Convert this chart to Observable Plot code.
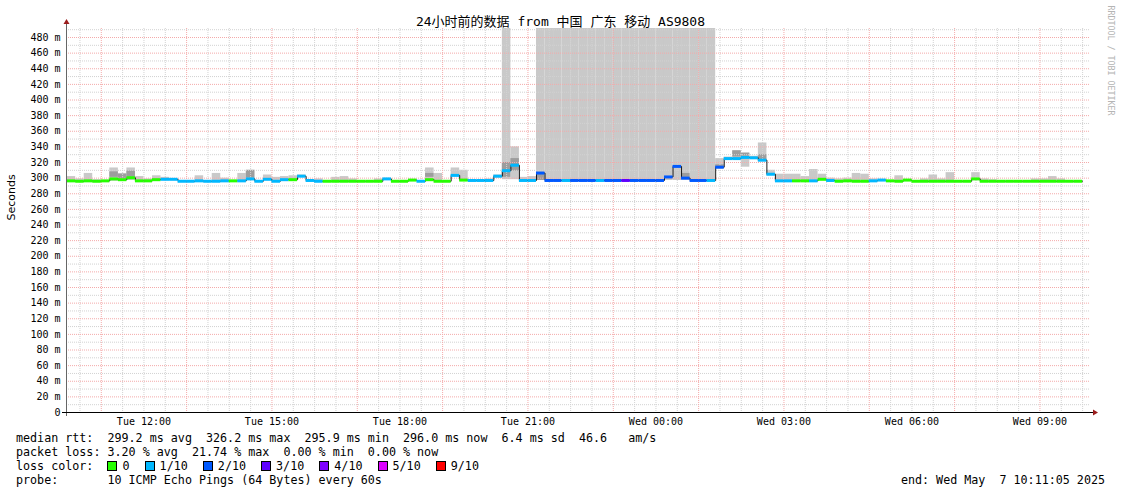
<!DOCTYPE html>
<html><head><meta charset="utf-8">
<script src="https://cdn.jsdelivr.net/npm/d3@7"></script>
<script src="https://cdn.jsdelivr.net/npm/@observablehq/plot@0.6"></script>
<style>
body{margin:0;background:#fff;}
#wrap{width:1121px;height:494px;position:relative;background:#fff;overflow:hidden;}
#legend{font-family:"DejaVu Sans Mono",monospace;font-size:11.7px;line-height:14px;white-space:pre;color:#000;padding-left:16px;padding-right:16px;margin-top:1px;}
#legend .row{display:flex;justify-content:space-between;height:14px;}
#legend .box{display:inline-block;width:8px;height:8px;border:1px solid #000;margin-right:5px;vertical-align:-1px;}
#legend .box.more{margin-left:1px;}
</style></head>
<body><div id="wrap"><div id="chart"></div><div id="legend"></div></div>
<script>
const title = "24小时前的数据 from 中国 广东 移动 AS9808";
const yLabel = "Seconds";
const sideText = "RRDTOOL / TOBI OETIKER";
// 12-minute steps starting Tue 2025-05-06 10:12
const med = [
296.5,296,296.5,296,296.5,
299,298,300.5,296.5,296.5,
298,298.5,298.5,296,296,
296.5,296,296,296.5,296.5,
296.5,299,296,298.5,296,
298,298,302.5,297,296,
296,296,296,296,296,
296,296,299,296,296,
297.5,296,298,296,296,
303.5,297.5,297,297,297,
302.5,309.5,316.5,297,297,
306.5,297,297,297,297,
297,297,297,297,297,
297,297,297,297,297,
301.5,315,300,297,297,
297,314,325,325,326.5,
326,323,305,296.5,296.5,
296.5,296.5,296.5,298.5,297,
296,296.5,296,296,296.5,
297.5,296.5,296,297.5,296,
296,296,296,296,296,
296,299,296,296,296,
296,296,296,296,296,
296,296,296,296
];
const loss = [
0,0,0,0,0, 0,0,0,0,0, 0,1,1,1,1, 1,1,1,1,0, 1,1,1,1,1, 1,0,1,1,1,
0,0,0,0,0, 0,0,1,0,0, 0,1,0,0,0, 1,0,1,1,1,
1,1,1,1,1, 2,2,2,1,2, 2,2,1,2,2, 3,2,2,2,2,
2,2,2,2,2, 1,2,1,1,1, 1,1,1,1,1, 0,0,1,0,1,
0,0,0,0,1, 1,0,0,0,0, 0,0,0,0,0, 0,0,0,0,0,
0,0,0,0,0, 0,0,0,0
];
const smokeLo = [
296,296,297,296,null,
296,296,297,296,296,
298,298,null,null,null,
297,null,297,297,null,
297,297,null,298,297,
298,298,301,null,296,
null,296,296,296,null,
null,296,null,null,null,
null,null,297,297,null,
303,298,null,null,297,
300,298,298,297,297,
297,297,297,297,297,
297,297,297,297,297,
297,297,297,297,297,
297,297,297,297,297,
297,312,323,324,314,
324,321,303,297,297,
297,297,297,299,297,
297,297,297,297,297,
null,null,297,null,null,
297,297,297,297,null,
null,300,297,297,null,
null,null,null,297,297,
297,297,null,null
];
const smokeHi = [
302,299,306,298,null,
313,306,313,302,299,
303,301,null,null,null,
303,null,306,300,null,
306,310,null,304,301,
302,303,304,null,299,
null,301,302,299,null,
null,299,null,null,null,
null,null,313,306,null,
313,310,null,null,299,
304,492,340,301,302,
492,492,492,492,492,
492,492,492,492,492,
492,492,492,492,492,
492,492,492,492,492,
492,325,327,335,332,
328,345,310,305,305,
305,302,311,305,300,
299,300,306,305,299,
null,null,303,null,null,
299,304,299,307,null,
null,307,299,298,null,
null,null,null,299,299,
302,299,null,null
];
const darkStep = [5,6,7,21,42,51,52,55,72,76,78,79,81];
const darkLo   = [301,299,301,300,301,301,309,297,300,312,327,328,322];
const darkHi   = [308,305,309,310,306,320,325,306.5,306,317,335,332,330];
const lossLevels = [0,1,2,3,4,5,9];
const lossNames  = ["0","1/10","2/10","3/10","4/10","5/10","9/10"];
const lossColors = ["#26ff00","#00b8ff","#0059ff","#5e00ff","#7e00ff","#dd00ff","#ff0000"];
const yMajor = d3.range(0, 481, 20);
const yMinor = d3.range(10, 491, 20);
const legendLines = [
  "median rtt:  299.2 ms avg  326.2 ms max  295.9 ms min  296.0 ms now  6.4 ms sd  46.6   am/s",
  "packet loss: 3.20 % avg  21.74 % max  0.00 % min  0.00 % now"
];
const lossLabel = "loss color:  ";
const probeText = "probe:       10 ICMP Echo Pings (64 Bytes) every 60s";
const endText = "end: Wed May  7 10:11:05 2025";

const start = new Date(2025,4,6,10,11,5), end = new Date(2025,4,7,10,11,5);
const t0 = new Date(2025,4,6,10,12,0);
const stepMs = 12*60*1000;
function colorFor(l){ let c = lossColors[0]; lossLevels.forEach((lv,k)=>{ if (l >= lv) c = lossColors[k]; }); return c; }
const rows = med.map((m,i)=>({
  x1:new Date(+t0+i*stepMs), x2:new Date(+t0+(i+1)*stepMs),
  med:m, loss:loss[i], lo:smokeLo[i], hi:smokeHi[i], color:colorFor(loss[i])
}));
const darkRows = darkStep.map((s,k)=>({x1:rows[s].x1, x2:rows[s].x2, lo:darkLo[k], hi:darkHi[k]}));
const linePts = rows.map(r=>({x:r.x1, y:r.med})).concat([{x:rows[rows.length-1].x2, y:rows[rows.length-1].med}]);
// major grid every 2 hours (odd hours), minor grid every 30 minutes elsewhere
const halfHours = d3.timeMinute.every(30).range(start, end);
const majorX = halfHours.filter(d=>d.getMinutes()===0 && d.getHours()%2===1);
const minorX = halfHours.filter(d=>!(d.getMinutes()===0 && d.getHours()%2===1));
const labelTicks = d3.timeHour.every(3).range(start, end);
const yTop = 491.52;

const chart = Plot.plot({
  width:1121, height:430, marginLeft:66, marginRight:31, marginTop:28, marginBottom:18,
  style:{fontFamily:"'DejaVu Sans Mono', monospace", fontSize:"10px", color:"#000", background:"#fff"},
  x:{type:"time", domain:[start,end]},
  y:{domain:[0,yTop]},
  color:{type:"identity"},
  marks:[
    Plot.rect(rows.filter(d=>d.hi!=null), {x1:"x1", x2:"x2", y1:"lo", y2:"hi", fill:"#c9c9c9", clip:true}),
    Plot.rect(darkRows, {x1:"x1", x2:"x2", y1:"lo", y2:"hi", fill:"#9d9d9d", clip:true}),
    Plot.ruleY(yMinor, {stroke:"#d2d2d2", strokeDasharray:"1,1"}),
    Plot.ruleX(minorX, {stroke:"#d2d2d2", strokeDasharray:"1,1"}),
    Plot.ruleY(yMajor.slice(1), {stroke:"#f4aaaa", strokeDasharray:"1,1"}),
    Plot.ruleX(majorX, {stroke:"#f4aaaa", strokeDasharray:"1,1"}),
    Plot.line(linePts, {x:"x", y:"y", curve:"step-after", stroke:"#1a1a1a", strokeWidth:1}),
    Plot.ruleY(rows, {x1:"x1", x2:"x2", y:"med", stroke:"color", strokeWidth:3}),
    Plot.axisY(yMajor, {tickFormat:d=>d===0?"0":d+" m", tickSize:0, tickPadding:6, label:null}),
    Plot.axisX(labelTicks, {tickFormat:d3.timeFormat("%a %H:%M"), tickSize:0, tickPadding:5, label:null}),
    Plot.text([title], {frameAnchor:"top", dx:-18, dy:-7, lineAnchor:"middle", fontSize:13, fontFamily:"'DejaVu Sans Mono','Noto Sans CJK SC',monospace", fill:"#000"}),
    Plot.text([yLabel], {frameAnchor:"left", dx:-55, rotate:-90, fontSize:11, fontFamily:"'DejaVu Sans',sans-serif", fill:"#000"}),
    Plot.text([sideText], {frameAnchor:"top-right", dx:20, dy:-23, rotate:90, textAnchor:"start", lineAnchor:"middle", fontSize:8.3, fill:"#b4b4b4"})
  ]
});
document.getElementById("chart").appendChild(chart);

// axes lines and arrows from the plot's scales
const sx = chart.scale("x"), sy = chart.scale("y");
const svg = d3.select(chart);
const X0 = sx.apply(start), X1 = sx.apply(end), Y0 = sy.apply(0), YT = sy.apply(yTop);
svg.append("line").attr("x1",X0+0.5).attr("x2",X0+0.5).attr("y1",Y0+4).attr("y2",YT-5).attr("stroke","#666");
svg.append("line").attr("x1",X0-4).attr("x2",X1+3).attr("y1",Y0+0.5).attr("y2",Y0+0.5).attr("stroke","#000");
svg.append("path").attr("d",`M${X1+3},${Y0-2.5}L${X1+8},${Y0+0.5}L${X1+3},${Y0+3.5}Z`).attr("fill","#9b1c1c");
svg.append("path").attr("d",`M${X0-2.5},${YT-4}L${X0+0.5},${YT-9}L${X0+3.5},${YT-4}Z`).attr("fill","#9b1c1c");

// legend below the chart
const lg = d3.select("#legend");
legendLines.forEach(t=>lg.append("div").attr("class","row").append("span").text(t));
const lr = lg.append("div").attr("class","row").append("span");
lr.append("span").text(lossLabel);
lossNames.forEach((n,k)=>{
  lr.append("span").attr("class", k ? "box more" : "box").style("background",lossColors[k]);
  lr.append("span").text(n + (k<lossNames.length-1 ? "  " : ""));
});
const pr = lg.append("div").attr("class","row");
pr.append("span").text(probeText);
pr.append("span").text(endText);
</script>
</body></html>
